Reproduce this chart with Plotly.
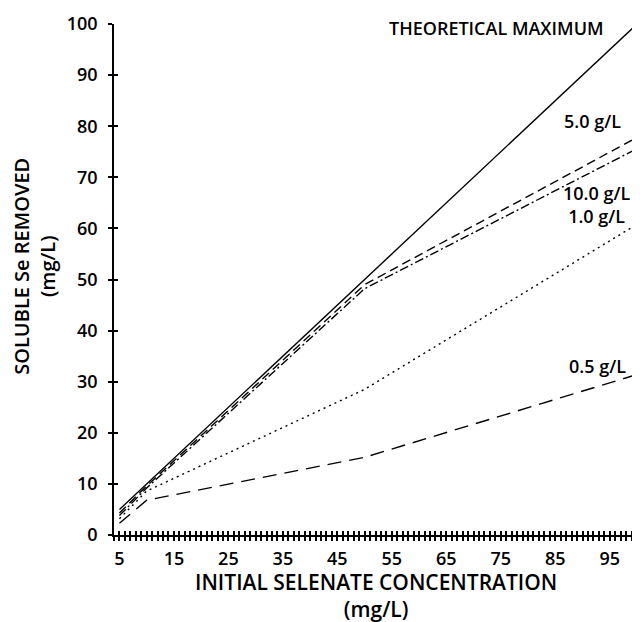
import plotly.graph_objects as go

# Data
conc = [5, 10, 50, 100]
theoretical = [5, 10, 50, 100]
g5_0 = [4.3, 9.6, 49.0, 77.8]
g10_0 = [3.8, 9.2, 48.2, 75.6]
g1_0 = [3.2, 8.6, 28.5, 60.8]
g0_5 = [2.3, 6.8, 15.2, 31.4]

series = [
    ("THEORETICAL MAXIMUM", theoretical, "solid"),
    ("5.0 g/L", g5_0, "9px,5px"),
    ("10.0 g/L", g10_0, "9px,3px,2px,3px"),
    ("1.0 g/L", g1_0, "2px,4px"),
    ("0.5 g/L", g0_5, "14px,8px"),
]

x_ticks = list(range(5, 100, 10))
y_ticks = list(range(0, 101, 10))

FONT = "Open Sans"
W = 600

fig = go.Figure()
for name, ys, dash in series:
    fig.add_trace(go.Scatter(x=conc, y=ys, mode="lines", name=name,
                             line=dict(color="black", width=1.4, dash=dash),
                             showlegend=False, hoverinfo="skip"))
# invisible trace on overlay axes (for inner tick halves)
fig.add_trace(go.Scatter(x=[conc[0]], y=[theoretical[0]], xaxis="x2", yaxis="y2",
                         mode="markers", marker=dict(opacity=0), showlegend=False,
                         hoverinfo="skip"))

tickfont = dict(family=FONT, size=18, color="black", weight=W)
fig.update_layout(
    width=632, height=614,
    margin=dict(l=106, r=3, t=7, b=87),
    plot_bgcolor="white", paper_bgcolor="white",
    xaxis=dict(range=[4, 100], tickvals=x_ticks, ticks="outside", ticklen=4,
               tickwidth=1.5, tickcolor="black", showline=True, linecolor="black",
               linewidth=1.5, showgrid=False, zeroline=False, tickfont=tickfont,
               ticklabelstandoff=3, ticklabeloverflow="allow",
               minor=dict(dtick=1, tick0=4, ticks="outside", ticklen=4,
                          tickwidth=1.5, tickcolor="black", showgrid=False)),
    yaxis=dict(range=[0, 100], tickvals=y_ticks, ticks="outside", ticklen=4,
               tickwidth=1.5, tickcolor="black", showline=True, linecolor="black",
               linewidth=1.5, showgrid=False, zeroline=False, tickfont=tickfont,
               ticklabelstandoff=7, ticklabeloverflow="allow"),
    xaxis2=dict(overlaying="x", matches="x", anchor="y", side="bottom",
                tickvals=x_ticks, ticks="inside", ticklen=4, tickwidth=1.5,
                tickcolor="black", showticklabels=False, showline=False,
                showgrid=False, zeroline=False,
                minor=dict(dtick=1, tick0=4, ticks="inside", ticklen=4,
                           tickwidth=1.5, tickcolor="black", showgrid=False)),
    yaxis2=dict(overlaying="y", matches="y", anchor="x", side="left",
                tickvals=y_ticks, ticks="inside", ticklen=4, tickwidth=1.5,
                tickcolor="black", showticklabels=False, showline=False,
                showgrid=False, zeroline=False),
)

labfont = dict(family=FONT, size=18, color="black", weight=W)
labels = [
    ("THEORETICAL MAXIMUM", 74.3, 98.1, 6),
    ("5.0 g/L", 91.9, 79.8, 6),
    ("10.0 g/L<br>1.0 g/L", 92.5, 64.0, 3),
    ("0.5 g/L", 92.7, 32.9, 1),
]
for text, lx, ly, ys in labels:
    fig.add_annotation(x=lx, y=ly, text=text, showarrow=False, font=labfont,
                       xanchor="center", yanchor="middle", yshift=ys)

fig.add_annotation(xref="paper", yref="paper", x=0.5, y=-0.119,
                   text="INITIAL SELENATE CONCENTRATION<br>(mg/L)",
                   showarrow=False, font=dict(family=FONT, size=21, color="black", weight=W),
                   xanchor="center", yanchor="middle")
fig.add_annotation(xref="paper", yref="paper", x=-0.151, y=0.525,
                   text="SOLUBLE Se REMOVED<br>(mg/L)", textangle=-90,
                   showarrow=False, font=dict(family=FONT, size=20, color="black", weight=W),
                   xanchor="center", yanchor="middle")

fig.write_html("out.html")
